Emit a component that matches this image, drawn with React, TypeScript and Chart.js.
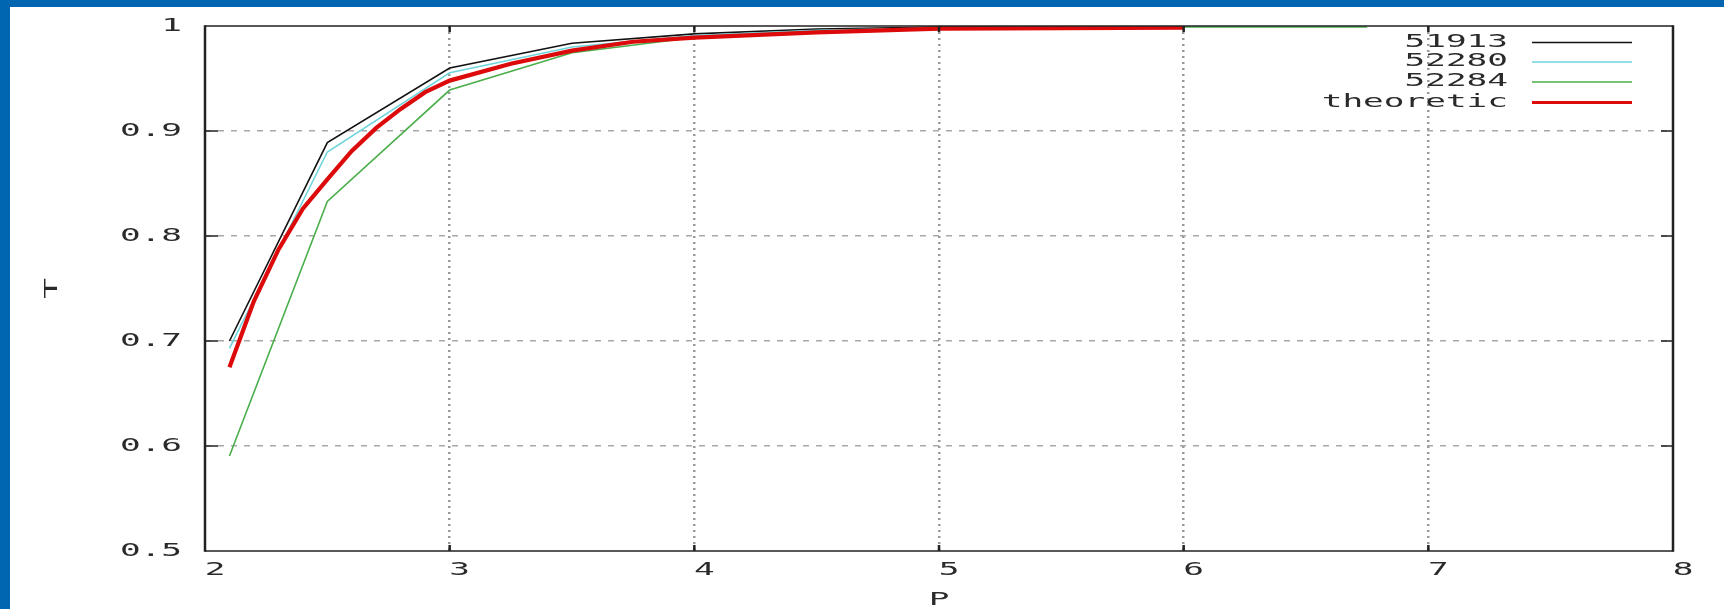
import React, { useEffect, useRef } from "react";
import { Chart, registerables } from "chart.js";

Chart.register(...registerables);

// ---- data ----
const seriesLabels = ["51913", "52280", "52284", "theoretic"];
const pObserved = [2.1, 2.5, 3, 3.5, 4, 4.5, 5, 5.5, 6];
const t51913 = [0.7, 0.889, 0.96, 0.9835, 0.9925, 0.997, 0.999, 0.9995, 0.9998];
const t52280 = [0.693, 0.88, 0.9555, 0.98, 0.991, 0.996, 0.998, 0.999, 0.9995];
const p52284 = [2.1, 2.5, 3, 3.5, 4, 4.5, 5, 5.5, 6, 6.75];
const t52284 = [0.5905, 0.833, 0.939, 0.9745, 0.989, 0.995, 0.998, 0.999, 0.999, 0.999];
const pTheory = [2.1, 2.2, 2.3, 2.4, 2.5, 2.6, 2.7, 2.8, 2.9, 3.0, 3.25, 3.5, 3.75, 4.0, 4.5, 5.0, 5.5, 6.0];
const tTheory = [0.675, 0.738, 0.787, 0.826, 0.854, 0.881, 0.903, 0.921, 0.937, 0.948, 0.964, 0.9765, 0.985, 0.989, 0.994, 0.9975, 0.998, 0.9984];
const xTicks = [2, 3, 4, 5, 6, 7, 8];
const yTicks = [0.5, 0.6, 0.7, 0.8, 0.9, 1];
const yTickLabels = ["0.5", "0.6", "0.7", "0.8", "0.9", "1"];

const colors = ["#111111", "#70d4dc", "#4aae4a", "#dc0a0a"];
const widths = [1.6, 1.6, 1.6, 4.2];

const STRETCH = 1.965;
const FONT = { family: "'DejaVu Sans Mono', monospace", size: 17.5, lineHeight: 1.2 };
const TEXT = "#2a2a2a";

const toPts = (xs: number[], ys: number[]) => xs.map((x, i) => ({ x, y: ys[i] }));

const framePlugin = {
  id: "frame",
  afterDatasetsDraw(chart: any) {
    const { ctx, chartArea: a, scales } = chart;
    ctx.save();
    ctx.strokeStyle = "#222";
    ctx.lineWidth = 1.7;
    yTicks.forEach((v) => {
      if (v === yTicks[0] || v === yTicks[yTicks.length - 1]) return;
      const y = scales.y.getPixelForValue(v);
      ctx.beginPath();
      ctx.moveTo(a.left, y); ctx.lineTo(a.left + 13, y);
      ctx.moveTo(a.right - 12, y); ctx.lineTo(a.right, y);
      ctx.stroke();
    });
    ctx.lineWidth = 2.5;
    xTicks.forEach((v) => {
      if (v === xTicks[0] || v === xTicks[xTicks.length - 1]) return;
      const x = scales.x.getPixelForValue(v);
      ctx.beginPath();
      ctx.moveTo(x, a.bottom); ctx.lineTo(x, a.bottom - 6);
      ctx.moveTo(x, a.top); ctx.lineTo(x, a.top + 6);
      ctx.stroke();
    });
    ctx.lineWidth = 1.7;
    ctx.beginPath();
    ctx.moveTo(a.left, a.top); ctx.lineTo(a.right, a.top);
    ctx.moveTo(a.left, a.bottom); ctx.lineTo(a.right, a.bottom);
    ctx.stroke();
    ctx.lineWidth = 2.5;
    ctx.beginPath();
    ctx.moveTo(a.left, a.top - 0.85); ctx.lineTo(a.left, a.bottom + 0.85);
    ctx.moveTo(a.right, a.top - 0.85); ctx.lineTo(a.right, a.bottom + 0.85);
    ctx.stroke();
    ctx.restore();
  },
  afterDraw(chart: any) {
    const { ctx } = chart;
    const rows = [42, 61.5, 81.5, 102];
    ctx.save();
    ctx.font = `${FONT.size}px ${FONT.family}`;
    ctx.fillStyle = TEXT;
    ctx.textAlign = "right";
    ctx.textBaseline = "middle";
    chart.data.datasets.forEach((ds: any, i: number) => {
      const y = rows[i];
      ctx.fillText(ds.label, 1508, y);
      ctx.strokeStyle = ds.borderColor;
      ctx.lineWidth = i === 3 ? 3.2 : 1.6;
      ctx.beginPath();
      ctx.moveTo(1532, y + 0.5);
      ctx.lineTo(1632, y + 0.5);
      ctx.stroke();
    });
    ctx.restore();
  },
};

export default function App() {
  const ref = useRef<HTMLCanvasElement | null>(null);

  useEffect(() => {
    const canvas = ref.current;
    if (!canvas) return;
    const c2d: any = canvas.getContext("2d");
    // the reference's lettering is stretched horizontally; reproduce that
    const origFill = c2d.fillText.bind(c2d);
    c2d.fillText = (t: string, x: number, y: number, mw?: number) => {
      c2d.save();
      c2d.translate(x, y);
      c2d.scale(STRETCH, 1);
      if (mw === undefined) origFill(t, 0, 0); else origFill(t, 0, 0, mw / STRETCH);
      c2d.restore();
    };

    const datasets = [
      { data: toPts(pObserved, t51913) },
      { data: toPts(pObserved, t52280) },
      { data: toPts(p52284, t52284) },
      { data: toPts(pTheory, tTheory) },
    ].map((d, i) => ({
      ...d,
      label: seriesLabels[i],
      borderColor: colors[i],
      backgroundColor: colors[i],
      borderWidth: widths[i],
      pointRadius: 0,
      tension: 0,
      fill: false,
      order: 3 - i,
    }));

    const chart = new Chart(canvas, {
      type: "line",
      data: { datasets },
      plugins: [framePlugin],
      options: {
        animation: false,
        responsive: false,
        maintainAspectRatio: false,
        layout: { padding: { top: 26, right: 51, left: 0, bottom: 0 } },
        plugins: { legend: { display: false }, tooltip: { enabled: false } },
        scales: {
          x: {
            type: "linear",
            min: 2,
            max: 8,
            afterBuildTicks: (s: any) => { s.ticks = xTicks.map((v) => ({ value: v })); },
            afterFit: (s: any) => { s.height = 58; s.paddingLeft = 0; s.paddingRight = 0; },
            ticks: { font: FONT, color: TEXT, padding: 9, labelOffset: 10, maxRotation: 0, autoSkip: false, callback: (v: any) => String(v) },
            grid: {
              drawTicks: false,
              lineWidth: 2.5,
              color: (c: any) => (c.tick && (c.tick.value === 2 || c.tick.value === 8) ? "rgba(0,0,0,0)" : "#9a9a9a"),
            },
            border: { display: false, dash: [2, 4] },
            title: { display: true, text: "P", font: { ...FONT, lineHeight: 1 }, color: TEXT, padding: { top: 0, bottom: 0 } },
          },
          y: {
            type: "linear",
            min: 0.5,
            max: 1,
            afterBuildTicks: (s: any) => { s.ticks = yTicks.map((v) => ({ value: v })); },
            afterFit: (s: any) => { s.width = 205; s.paddingTop = 0; s.paddingBottom = 0; },
            ticks: {
              font: FONT,
              color: TEXT,
              padding: 23,
              autoSkip: false,
              callback: (v: any) => { const i = yTicks.findIndex((t) => Math.abs(t - v) < 1e-9); return i >= 0 ? yTickLabels[i] : ""; },
            },
            grid: {
              drawTicks: false,
              lineWidth: 1.5,
              color: (c: any) => (c.tick && (Math.abs(c.tick.value - 0.5) < 1e-9 || Math.abs(c.tick.value - 1) < 1e-9) ? "rgba(0,0,0,0)" : "#a8a8a8"),
            },
            border: { display: false, dash: [6, 7] },
            title: { display: true, text: "T", font: { ...FONT, lineHeight: 1 }, color: TEXT, padding: { top: 43.5, bottom: 0 } },
          },
        },
      } as any,
    });
    return () => {
      chart.destroy();
      c2d.fillText = origFill;
    };
  }, []);

  return (
    <div style={{ position: "fixed", left: 0, top: 0, width: 1724, height: 609, background: "#0166b1", overflow: "hidden" }}>
      <div style={{ position: "absolute", left: 10, top: 7, right: 0, bottom: 0, background: "#ffffff" }} />
      <canvas ref={ref} width={1724} height={609} style={{ position: "absolute", left: 0, top: 0, display: "block" }} />
    </div>
  );
}
